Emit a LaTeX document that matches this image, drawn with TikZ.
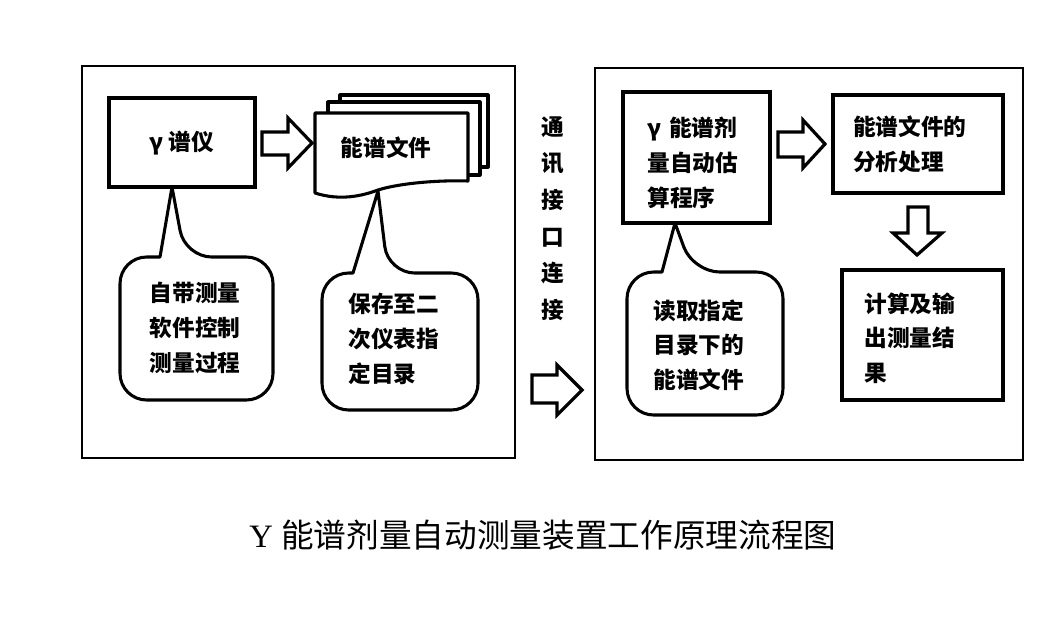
\documentclass[tikz,border=0pt]{standalone}
\usepackage{fontspec}
\setmainfont{Liberation Serif}
\newfontfamily\cjk{Noto Sans CJK SC}
\begin{document}
\begin{tikzpicture}[x=0.75pt,y=-0.75pt,
  panel/.style={draw, line width=1.5pt},
  box/.style={draw, line width=2.6pt, fill=white, inner sep=0pt},
  doc/.style={draw, line width=2.3pt, fill=white, line join=round},
  callout/.style={draw, line width=2.3pt, fill=white, line join=round},
  barrow/.style={draw, line width=2.4pt, fill=white, line join=miter},
  txt/.style={font=\cjk\bfseries\fontsize{17}{26}\selectfont, align=left, inner sep=0pt},
  vtxt/.style={font=\cjk\bfseries\fontsize{17}{27.5}\selectfont, align=center, inner sep=0pt},
  captxt/.style={font=\fontsize{24.5}{28}\selectfont, inner sep=0pt}]
\useasboundingbox (0,0) rectangle (1042,618);

% panels
\node[panel, minimum width=433*0.75pt, minimum height=392*0.75pt, inner sep=0pt] (P1) at (298.5,262) {};
\node[panel, minimum width=428*0.75pt, minimum height=392*0.75pt, inner sep=0pt] (P2) at (809,264) {};

% left panel
\node[box, minimum width=146*0.75pt, minimum height=89*0.75pt] (G) at (182,142.5) {};
\node[txt] (Gt) at (182,143) {γ 谱仪};

% document stack
\draw[doc] (340,95) rectangle (488,167);
\draw[doc] (328,102) rectangle (480,175);
\draw[doc] (315,113) -- (468,113) -- (468,181)
  .. controls (440,180) and (400,183) .. (378,190)
  .. controls (362,196) and (340,201) .. (315,193) -- cycle;
\node[txt] (D) at (386,148) {能谱文件};

\draw[barrow] (262,132) -- (288,132) -- (288,118) -- (312,143) -- (288,168) -- (288,155) -- (262,155) -- cycle;

% callouts left
\draw[callout] (160,257) [rounded corners=20pt] -- (120,257) -- (120,400) -- (273,400) -- (273,257) -- (185,257) [sharp corners] -- (172,187) -- cycle;
\node[txt] (C1) at (195,328) {自带测量\\软件控制\\测量过程};

\draw[callout] (353,273) [rounded corners=20pt] -- (322,273) -- (322,410) -- (478,410) -- (478,273) -- (388,273) [sharp corners] -- (378,191) -- cycle;
\node[txt, text width=95*0.75pt] (C2) at (396,339) {保存至二\\次仪表指\\定目录};

% middle
\node[vtxt] (V) at (553,218.5) {通\\讯\\接\\口\\连\\接};
\draw[barrow] (532,375) -- (557,375) -- (557,365) -- (582,390) -- (557,415) -- (557,403) -- (532,403) -- cycle;

% right panel
\node[box, minimum width=147*0.75pt, minimum height=131*0.75pt] (A) at (696.5,157.5) {};
\node[txt, text width=95*0.75pt] (At) at (695,163) {γ 能谱剂\\量自动估\\算程序};

\draw[barrow] (778,132) -- (803,132) -- (803,120) -- (825,144) -- (803,168) -- (803,157) -- (778,157) -- cycle;

\node[box, minimum width=170*0.75pt, minimum height=98*0.75pt] (B) at (918,144) {};
\node[txt, text width=122*0.75pt] (Bt) at (914,144.5) {能谱文件的\\分析处理};

\draw[barrow] (908,207) -- (928,207) -- (928,233) -- (942,233) -- (917,255) -- (893,233) -- (908,233) -- cycle;

\node[box, minimum width=161*0.75pt, minimum height=130*0.75pt] (C) at (922.5,335) {};
\node[txt, text width=95*0.75pt] (Ct) at (912,338) {计算及输\\出测量结\\果};

\draw[callout] (662,272) [rounded corners=20pt] -- (627,272) -- (627,415) -- (783,415) -- (783,272) -- (693,272) [sharp corners] -- (675,223) -- cycle;
\node[txt, text width=95*0.75pt] (C3) at (701,345) {读取指定\\目录下的\\能谱文件};

% caption
\node[captxt] (T) at (543,535) {Y {\cjk 能谱剂量自动测量装置工作原理流程图}};
\end{tikzpicture}
\end{document}
